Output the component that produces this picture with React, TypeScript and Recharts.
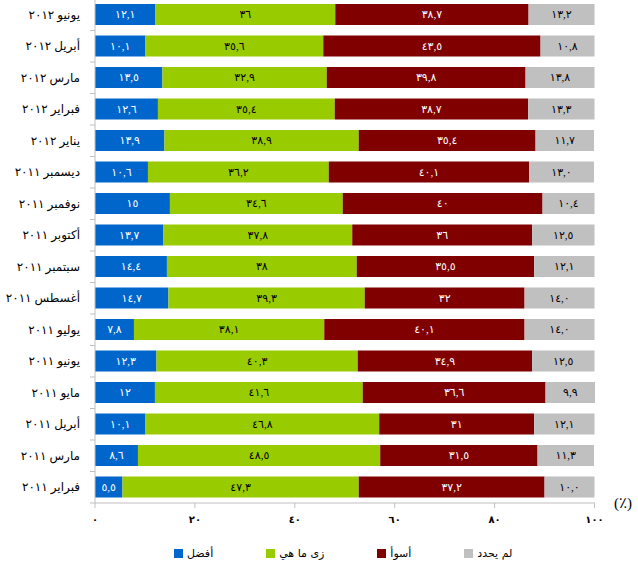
import React from "react";
import { BarChart, Bar, XAxis, YAxis, Legend, LabelList } from "recharts";

const months = [
  "يونيو ٢٠١٢",
  "أبريل ٢٠١٢",
  "مارس ٢٠١٢",
  "فبراير ٢٠١٢",
  "يناير ٢٠١٢",
  "ديسمبر ٢٠١١",
  "نوفمبر ٢٠١١",
  "أكتوبر ٢٠١١",
  "سبتمبر ٢٠١١",
  "أغسطس ٢٠١١",
  "يوليو ٢٠١١",
  "يونيو ٢٠١١",
  "مايو ٢٠١١",
  "أبريل ٢٠١١",
  "مارس ٢٠١١",
  "فبراير ٢٠١١",
];

const better = [12.1, 10.1, 13.5, 12.6, 13.9, 10.6, 15, 13.7, 14.4, 14.7, 7.8, 12.3, 12, 10.1, 8.6, 5.5];
const same = [36, 35.6, 32.9, 35.4, 38.9, 36.2, 34.6, 37.8, 38, 39.3, 38.1, 40.3, 41.6, 46.8, 48.5, 47.3];
const worse = [38.7, 43.5, 39.8, 38.7, 35.4, 40.1, 40, 36, 35.5, 32, 40.1, 34.9, 36.6, 31, 31.5, 37.2];
const undecided = [13.2, 10.8, 13.8, 13.3, 11.7, 13.0, 10.4, 12.5, 12.1, 14.0, 14.0, 12.5, 9.9, 12.1, 11.3, 10.0];

const xTicks = [0, 20, 40, 60, 80, 100];

const seriesNames = {
  better: "أفضل",
  same: "زى ما هي",
  worse: "أسوأ",
  undecided: "لم يحدد",
};

const COLORS = {
  better: "#0066CC",
  same: "#99CC00",
  worse: "#800000",
  undecided: "#C0C0C0",
  axis: "#BFBFBF",
};

const data = months.map((m, i) => ({
  month: m,
  better: better[i],
  same: same[i],
  worse: worse[i],
  undecided: undecided[i],
}));

const DIGITS = "٠١٢٣٤٥٦٧٨٩";
const toArabic = (s: string) => s.replace(/\d/g, (d) => DIGITS[Number(d)]).replace(".", ",");

const SERIF = "'Liberation Serif', 'DejaVu Sans', serif";
const BAND = 504 / 16;

function MonthTick({ x, y, payload }: any) {
  return (
    <g>
      <text x={x - 7} y={y} textAnchor="end" dominantBaseline="central" fontFamily={SERIF} fontSize={12} fill="#000">
        {payload.value}
      </text>
      <line x1={x + 3} x2={x + 8} y1={y + BAND / 2} y2={y + BAND / 2} stroke={COLORS.axis} />
    </g>
  );
}

function LegendRow() {
  const keys = ["better", "same", "worse", "undecided"] as const;
  return (
    <div style={{ display: "flex", paddingLeft: 174, paddingTop: 14, fontFamily: "'DejaVu Sans', sans-serif", fontSize: 11 }}>
      {keys.map((k) => (
        <div key={k} style={{ display: "flex", alignItems: "center", marginRight: 53 }}>
          <span style={{ width: 9, height: 9, background: COLORS[k], display: "inline-block", marginRight: 4 }} />
          <span>{seriesNames[k]}</span>
        </div>
      ))}
    </div>
  );
}

export default function App() {
  const labelStyle = (color: string, fixed = false) => ({
    fill: color,
    fontSize: 11,
    fontFamily: SERIF,
    formatter: (v: number) => toArabic(fixed ? v.toFixed(1) : String(v)),
  });

  return (
    <div style={{ position: "absolute", left: 0, top: 0 }}>
      <BarChart
        width={638}
        height={568}
        data={data}
        layout="vertical"
        margin={{ top: -1, right: 43, bottom: 0, left: 0 }}
      >
        <XAxis
          type="number"
          domain={[0, 100]}
          ticks={xTicks}
          height={30}
          stroke={COLORS.axis}
          tickSize={5}
          tickMargin={8}
          tick={{ fill: "#000", fontSize: 10, fontFamily: SERIF, fontWeight: "bold" }}
          tickFormatter={(v) => toArabic(String(v))}
          label={{ value: "(٪)", position: "right", dy: -15, dx: 14, fontSize: 15, fontFamily: SERIF, fill: "#000" }}
        />
        <YAxis
          type="category"
          dataKey="month"
          width={95}
          stroke={COLORS.axis}
          tickLine={false}
          tick={<MonthTick />}
          interval={0}
        />
        <Legend verticalAlign="bottom" height={35} content={() => <LegendRow />} />
        <Bar dataKey="better" stackId="a" fill={COLORS.better} barSize={21} isAnimationActive={false} name={seriesNames.better}>
          <LabelList dataKey="better" position="center" {...labelStyle("#fff")} />
        </Bar>
        <Bar dataKey="same" stackId="a" fill={COLORS.same} barSize={21} isAnimationActive={false} name={seriesNames.same}>
          <LabelList dataKey="same" position="center" {...labelStyle("#000")} />
        </Bar>
        <Bar dataKey="worse" stackId="a" fill={COLORS.worse} barSize={21} isAnimationActive={false} name={seriesNames.worse}>
          <LabelList dataKey="worse" position="center" {...labelStyle("#fff")} />
        </Bar>
        <Bar dataKey="undecided" stackId="a" fill={COLORS.undecided} barSize={21} isAnimationActive={false} name={seriesNames.undecided}>
          <LabelList dataKey="undecided" position="center" {...labelStyle("#000", true)} />
        </Bar>
      </BarChart>
    </div>
  );
}
